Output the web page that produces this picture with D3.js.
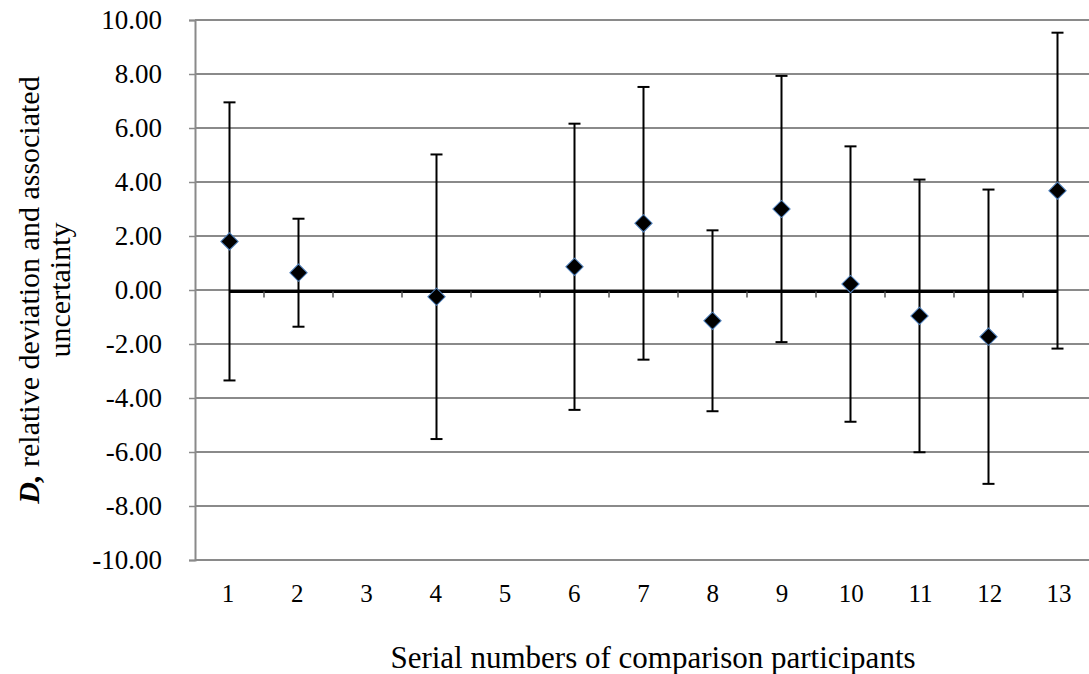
<!DOCTYPE html>
<html>
<head>
<meta charset="utf-8">
<script src="https://cdnjs.cloudflare.com/ajax/libs/d3/7.8.5/d3.min.js"></script>
<style>
  body { margin: 0; background: #fff; }
  svg text { font-family: "Liberation Serif", "Times New Roman", serif; fill: #000; }
</style>
</head>
<body>
<div id="chart"></div>
<script>
var W = 1089, H = 674,
    m = [20, 0, 114, 195]; // top right bottom left
var serif = "'Liberation Serif', 'Times New Roman', serif";

// participants that reported a result, relative deviation D and its uncertainty
var participants = [1, 2, 4, 6, 7, 8, 9, 10, 11, 12, 13];
var deviation    = [1.80, 0.64, -0.25, 0.86, 2.47, -1.14, 3.00, 0.22, -0.96, -1.73, 3.68];
var uncertainty  = [5.15, 2.00, 5.27, 5.30, 5.05, 3.35, 4.93, 5.10, 5.05, 5.45, 5.85];
var categories   = ["1", "2", "3", "4", "5", "6", "7", "8", "9", "10", "11", "12", "13"];
var yTicks       = [-10, -8, -6, -4, -2, 0, 2, 4, 6, 8, 10];

var data = participants.map(function(p, i) {
  return { p: p, d: deviation[i], u: uncertainty[i] };
});

var plotW = W - m[1] - m[3],
    plotH = H - m[0] - m[2];

var x = d3.scaleLinear().domain([0.5, 13.5]).range([0, 69 * 13]);
var y = d3.scaleLinear().domain([-10, 10]).range([plotH, 0]);
// category labels under the plot sit on their own slightly wider spacing
var xl = d3.scaleLinear().domain([1, 13]).range([33, 864]);

var svg = d3.select("#chart").append("svg")
    .attr("width", W)
    .attr("height", H);

var g = svg.append("g")
    .attr("transform", "translate(" + m[3] + "," + m[0] + ")");

// horizontal gridlines
g.selectAll("line.grid")
    .data(yTicks)
  .enter().append("line")
    .attr("class", "grid")
    .attr("x1", 0).attr("x2", plotW)
    .attr("y1", function(d) { return y(d); })
    .attr("y2", function(d) { return y(d); })
    .attr("stroke", "#8a8a8a")
    .attr("stroke-width", 2);

// y axis
var fmt = d3.format(".2f");
var yAxis = d3.axisLeft(y)
    .tickValues(yTicks)
    .tickSize(6)
    .tickFormat(function(d) { return fmt(d).replace("\u2212", "-"); });

var ya = g.append("g").call(yAxis);
ya.select(".domain").attr("stroke", "#8a8a8a").attr("stroke-width", 2);
ya.selectAll(".tick line").attr("stroke", "#8a8a8a").attr("stroke-width", 1.5);
ya.selectAll(".tick text")
    .attr("x", -33)
    .style("font-family", serif)
    .style("font-size", "27px")
    .style("fill", "#000");

// zero reference line with ticks between participants
var zero = g.append("g").attr("transform", "translate(0,1.5)");
zero.append("line")
    .attr("x1", x(1)).attr("x2", x(13))
    .attr("y1", y(0)).attr("y2", y(0))
    .attr("stroke", "#000")
    .attr("stroke-width", 3);

zero.selectAll("line.mtick")
    .data(d3.range(1.5, 13, 1))
  .enter().append("line")
    .attr("class", "mtick")
    .attr("x1", function(d) { return x(d); })
    .attr("x2", function(d) { return x(d); })
    .attr("y1", y(0))
    .attr("y2", y(0) + 6)
    .attr("stroke", "#555")
    .attr("stroke-width", 1.5);

// error bars
var eb = g.selectAll("g.err")
    .data(data)
  .enter().append("g")
    .attr("class", "err");

eb.append("line")
    .attr("x1", function(d) { return x(d.p); })
    .attr("x2", function(d) { return x(d.p); })
    .attr("y1", function(d) { return y(d.d + d.u); })
    .attr("y2", function(d) { return y(d.d - d.u); })
    .attr("stroke", "#000")
    .attr("stroke-width", 2);

[1, -1].forEach(function(s) {
  eb.append("line")
      .attr("x1", function(d) { return x(d.p) - 6; })
      .attr("x2", function(d) { return x(d.p) + 6; })
      .attr("y1", function(d) { return y(d.d + s * d.u); })
      .attr("y2", function(d) { return y(d.d + s * d.u); })
      .attr("stroke", "#000")
      .attr("stroke-width", 2);
});

// diamond markers
g.selectAll("path.pt")
    .data(data)
  .enter().append("path")
    .attr("class", "pt")
    .attr("d", d3.symbol().type(d3.symbolSquare).size(150))
    .attr("transform", function(d) {
      return "translate(" + x(d.p) + "," + y(d.d) + ") rotate(45)";
    })
    .attr("fill", "#000")
    .attr("stroke", "#4f81bd")
    .attr("stroke-width", 1);

// category labels
g.selectAll("text.cat")
    .data(categories)
  .enter().append("text")
    .attr("class", "cat")
    .attr("x", function(d, i) { return xl(i + 1); })
    .attr("y", plotH + 42)
    .attr("text-anchor", "middle")
    .style("font-family", serif)
    .style("font-size", "25px")
    .text(function(d) { return d; });

// axis titles
svg.append("text")
    .attr("x", 653)
    .attr("y", 668)
    .attr("text-anchor", "middle")
    .style("font-family", serif)
    .style("font-size", "31px")
    .text("Serial numbers of comparison participants");

var yt = svg.append("text")
    .attr("transform", "translate(39,290) rotate(-90)")
    .attr("text-anchor", "middle")
    .style("font-family", serif)
    .style("font-size", "30px");

yt.append("tspan")
    .attr("x", 0)
    .style("font-weight", "bold")
    .style("font-style", "italic")
    .text("D,");
yt.append("tspan")
    .text(" relative deviation and associated");
yt.append("tspan")
    .attr("x", 0)
    .attr("dy", "1.05em")
    .text("uncertainty");
</script>
</body>
</html>
